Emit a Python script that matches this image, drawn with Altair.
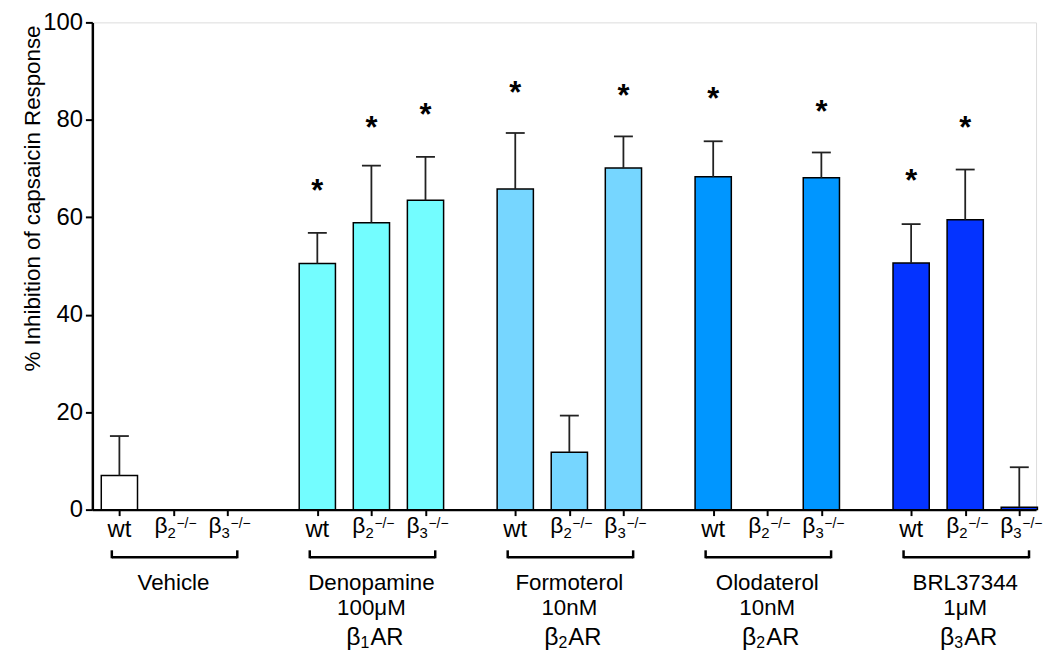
import altair as alt
import pandas as pd

# ---------------- data ----------------
groups = ["Vehicle", "Denopamine", "Formoterol", "Olodaterol", "BRL37344"]
doses = ["", "100μM", "10nM", "10nM", "1μM"]
receptor_sub = ["", "1", "2", "2", "3"]
genotypes = ["wt", "β2", "β3"]
geno_sub = ["", "2", "3"]
group_colors = ["#FFFFFF", "#73FDFF", "#76D6FF", "#0096FF", "#0433FF"]

means = [7.0, None, None, 50.5, 58.9, 63.5, 65.8, 11.8, 70.1, 68.3, None, 68.1, 50.6, 59.5, 0.5]
err_top = [15.1, None, None, 56.8, 70.6, 72.4, 77.3, 19.3, 76.6, 75.6, None, 73.3, 58.6, 69.8, 8.7]
star_y = [None, None, None, 67.0, 80.0, 82.7, 87.2, None, 86.6, 85.9, None, 83.2, 69.0, 80.0, None]
y_ticks = [0, 20, 40, 60, 80, 100]
y_title = "% Inhibition of capsaicin Response"

# ---------------- layout constants ----------------
GROUP_STEP = 3.66
HALF = 0.335
CAP = 0.175
FONT = "Liberation Sans"

rows = []
for gi, g in enumerate(groups):
    for k, gt in enumerate(genotypes):
        i = gi * 3 + k
        pos = gi * GROUP_STEP + k
        rows.append(dict(group=g, geno=gt, sub=geno_sub[k], pos=pos,
                         x1=pos - HALF, x2=pos + HALF,
                         c1=pos - CAP, c2=pos + CAP,
                         mean=means[i], err=err_top[i], star=star_y[i]))
df = pd.DataFrame(rows)
positions = list(df["pos"])

grows = []
for gi, g in enumerate(groups):
    first = gi * GROUP_STEP
    last = gi * GROUP_STEP + 2
    grows.append(dict(group=g, mid=gi * GROUP_STEP + 1, b1=first - 0.14, b2=last + 0.18,
                      dose=doses[gi], rsub=receptor_sub[gi],
                      beta="β" if receptor_sub[gi] else "", ar="AR" if receptor_sub[gi] else ""))
gdf = pd.DataFrame(grows)

xscale = alt.Scale(domain=[-0.5, 16.95], nice=False, zero=False)
yscale = alt.Scale(domain=[0, 100], nice=False)

base = alt.Chart(df)

bars = base.transform_filter("datum.mean != null").mark_rect(
    stroke="black", strokeWidth=1.5
).encode(
    x=alt.X("x1:Q", scale=xscale,
            axis=alt.Axis(values=positions, labels=False, tickSize=6, tickWidth=2,
                          domainWidth=2.5, domainColor="black", tickColor="black",
                          grid=False, title=None)),
    x2="x2:Q",
    y=alt.Y("mean:Q", scale=yscale,
            axis=alt.Axis(values=y_ticks, labelFontSize=24, labelFont=FONT, labelColor="black",
                          tickSize=7, tickWidth=2, domainWidth=2.5, domainColor="black",
                          tickColor="black", labelPadding=3, grid=False, title=None)),
    y2=alt.datum(0),
    color=alt.Color("group:N", scale=alt.Scale(domain=groups, range=group_colors), legend=None),
)

err_line = base.transform_filter("datum.err != null").mark_rule(
    color="#222222", strokeWidth=1.8
).encode(
    x=alt.X("pos:Q", scale=xscale),
    y=alt.Y("mean:Q", scale=yscale),
    y2="err:Q",
)

err_cap = base.transform_filter("datum.err != null").mark_rule(
    color="#222222", strokeWidth=1.8
).encode(
    x=alt.X("c1:Q", scale=xscale),
    x2="c2:Q",
    y=alt.Y("err:Q", scale=yscale),
)

stars = base.transform_filter("datum.star != null").mark_text(
    text="*", fontSize=31, fontWeight="bold", font=FONT, color="black",
    baseline="alphabetic", dy=18
).encode(
    x=alt.X("pos:Q", scale=xscale),
    y=alt.Y("star:Q", scale=yscale),
)

wt_lab = base.transform_filter("datum.geno == 'wt'").mark_text(
    fontSize=24, font=FONT, color="black", baseline="alphabetic", align="center"
).encode(x=alt.X("pos:Q", scale=xscale), y=alt.value(519), text="geno:N")

beta_lab = base.transform_filter("datum.geno != 'wt'").mark_text(
    text="β", fontSize=23, font=FONT, color="black", baseline="alphabetic", align="right", dx=-6
).encode(x=alt.X("pos:Q", scale=xscale), y=alt.value(515))

sub_lab = base.transform_filter("datum.geno != 'wt'").mark_text(
    fontSize=15, font=FONT, color="black", baseline="alphabetic", align="left", dx=-6
).encode(x=alt.X("pos:Q", scale=xscale), y=alt.value(520), text="sub:N")

sup_lab = base.transform_filter("datum.geno != 'wt'").mark_text(
    text="−/−", fontSize=14, font=FONT, color="black", baseline="alphabetic", align="left", dx=3
).encode(x=alt.X("pos:Q", scale=xscale), y=alt.value(510))

gbase = alt.Chart(gdf)

bracket = gbase.mark_rule(color="black", strokeWidth=2.5).encode(
    x=alt.X("b1:Q", scale=xscale), x2="b2:Q", y=alt.value(539)
)
bracket_l = gbase.mark_rule(color="black", strokeWidth=2.5).encode(
    x=alt.X("b1:Q", scale=xscale), y=alt.value(532), y2=alt.value(540)
)
bracket_r = gbase.mark_rule(color="black", strokeWidth=2.5).encode(
    x=alt.X("b2:Q", scale=xscale), y=alt.value(532), y2=alt.value(540)
)

line1 = gbase.mark_text(fontSize=22.5, font=FONT, color="black", baseline="alphabetic").encode(
    x=alt.X("mid:Q", scale=xscale), y=alt.value(572), text="group:N"
)
line2 = gbase.mark_text(fontSize=22.5, font=FONT, color="black", baseline="alphabetic").encode(
    x=alt.X("mid:Q", scale=xscale), y=alt.value(597), text="dose:N"
)
line3_beta = gbase.mark_text(fontSize=25, font=FONT, color="black", baseline="alphabetic",
                             align="right", dx=-11).encode(
    x=alt.X("mid:Q", scale=xscale), y=alt.value(627), text="beta:N"
)
line3_sub = gbase.mark_text(fontSize=16, font=FONT, color="black", baseline="alphabetic",
                            align="left", dx=-11).encode(
    x=alt.X("mid:Q", scale=xscale), y=alt.value(630), text="rsub:N"
)
line3_ar = gbase.mark_text(fontSize=24, font=FONT, color="black", baseline="alphabetic",
                           align="left", dx=-1).encode(
    x=alt.X("mid:Q", scale=xscale), y=alt.value(627), text="ar:N"
)

ytitle = alt.Chart(pd.DataFrame({"t": [y_title]})).mark_text(
    fontSize=22.5, font=FONT, color="black", angle=270, align="center", baseline="middle"
).encode(x=alt.value(-60), y=alt.value(177.5), text="t:N")

chart = alt.layer(
    bars, err_line, err_cap, stars, wt_lab, beta_lab, sub_lab, sup_lab,
    bracket, bracket_l, bracket_r, line1, line2, line3_beta, line3_sub, line3_ar, ytitle
).properties(
    width=951, height=491,
    autosize=alt.AutoSizeParams(type="none"),
    padding={"left": 85, "top": 12, "right": 8, "bottom": 145},
).configure_view(stroke=None).configure(font=FONT)

chart.save("out.html", embed_options={"renderer": "svg", "actions": False})
